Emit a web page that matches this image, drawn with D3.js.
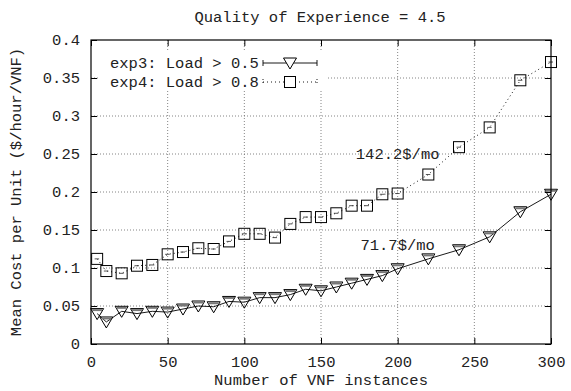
<!DOCTYPE html>
<html><head><meta charset="utf-8">
<script src="https://cdn.jsdelivr.net/npm/d3@7"></script>
<style>body{margin:0;background:#fff}svg{display:block}text{font-family:"Liberation Mono","DejaVu Sans Mono",monospace;fill:#222}</style>
</head><body><svg id="c" width="571" height="391"></svg>
<script>
const xValues = [4,10,20,30,40,50,60,70,80,90,100,110,120,130,140,150,160,170,180,190,200,220,240,260,280,300];
const exp3 = [0.040,0.029,0.043,0.040,0.043,0.042,0.046,0.050,0.049,0.056,0.055,0.061,0.061,0.065,0.072,0.070,0.075,0.080,0.085,0.090,0.099,0.112,0.124,0.141,0.174,0.197];
const exp4 = [0.112,0.096,0.093,0.103,0.104,0.118,0.121,0.126,0.125,0.135,0.145,0.145,0.140,0.158,0.167,0.167,0.172,0.182,0.182,0.197,0.198,0.223,0.259,0.285,0.347,0.371];
const xTicks = [0,50,100,150,200,250,300];
const yTicks = [0,0.05,0.1,0.15,0.2,0.25,0.3,0.35,0.4];
const seriesNames = ["exp3: Load > 0.5","exp4: Load > 0.8"];
const annotations = [{x:200,y:0.25,text:"142.2$/mo"},{x:200,y:0.13,text:"71.7$/mo"}];
const title = "Quality of Experience = 4.5";
const xLabel = "Number of VNF instances";
const yLabel = "Mean Cost per Unit ($/hour/VNF)";

const svg = d3.select("#c");
const L=91,R=551,T=40,B=344;
const x = d3.scaleLinear().domain([0,300]).range([L,R]);
const y = d3.scaleLinear().domain([0,0.4]).range([B,T]);
const fs = "15.5px";

// grid
const g = svg.append("g");
g.selectAll(".gx").data(xTicks.slice(1,-1)).join("line")
 .attr("x1",d=>x(d)).attr("x2",d=>x(d)).attr("y1",T).attr("y2",B)
 .attr("stroke","#666").attr("stroke-width",0.8).attr("stroke-dasharray","1,2");
g.selectAll(".gy").data(yTicks.slice(1,-1)).join("line")
 .attr("x1",L).attr("x2",R).attr("y1",d=>y(d)).attr("y2",d=>y(d))
 .attr("stroke","#666").attr("stroke-width",0.8).attr("stroke-dasharray","1,2");

// axes with mirrored ticks
const ax = (a,tr)=>svg.append("g").attr("transform",tr).call(a).call(s=>{s.select(".domain").remove();s.selectAll("line").attr("stroke","#000");s.selectAll("text").style("font-size",fs).attr("fill","#222");});
ax(d3.axisBottom(x).tickValues(xTicks).tickSize(-6).tickPadding(12).tickFormat(d3.format("d")),`translate(0,${B})`);
ax(d3.axisTop(x).tickValues(xTicks).tickSize(-6).tickFormat(""),`translate(0,${T})`);
ax(d3.axisLeft(y).tickValues(yTicks).tickSize(-6).tickPadding(11).tickFormat(d=>d===0?"0":String(+d.toFixed(2))),`translate(${L},0)`);
ax(d3.axisRight(y).tickValues(yTicks).tickSize(-6).tickFormat(""),`translate(${R},0)`);
svg.selectAll("text").attr("font-family",null);

// legend background
svg.append("rect").attr("x",100).attr("y",50).attr("width",227).attr("height",40).attr("fill","#fff");

// lines
const data3 = xValues.map((v,i)=>[v,exp3[i]]);
const data4 = xValues.map((v,i)=>[v,exp4[i]]);
const line = d3.line().x(d=>x(d[0])).y(d=>y(d[1]));
svg.append("path").attr("d",line(data3)).attr("fill","none").attr("stroke","#000").attr("stroke-width",0.9);
svg.append("path").attr("d",line(data4)).attr("fill","none").attr("stroke","#000").attr("stroke-width",0.9).attr("stroke-dasharray","1,3");

// markers
function tri(sel,cx,cy){
  sel.append("path").attr("d",`M${cx-6.5},${cy-5} L${cx+6.5},${cy-5} L${cx},${cy+6} Z`)
    .attr("fill","none").attr("stroke","#000").attr("stroke-width",1);
  sel.append("line").attr("x1",cx-5).attr("x2",cx+5).attr("y1",cy-3.5).attr("y2",cy-3.5).attr("stroke","#777").attr("stroke-width",2);
}
function sq(sel,cx,cy){
  sel.append("rect").attr("x",cx-5.5).attr("y",cy-5.5).attr("width",11).attr("height",11)
    .attr("fill","none").attr("stroke","#000").attr("stroke-width",1);
  sel.append("line").attr("x1",cx-2.5).attr("x2",cx+2).attr("y1",cy).attr("y2",cy).attr("stroke","#444").attr("stroke-width",0.9);
}
const m3 = svg.append("g"), m4 = svg.append("g");
data3.forEach(d=>tri(m3,x(d[0]),y(d[1])));
data4.forEach(d=>sq(m4,x(d[0]),y(d[1])));

// legend
const lg = svg.append("g");
seriesNames.forEach((n,i)=>{
  const yy = 63+i*19;
  lg.append("text").attr("x",110).attr("y",yy+5).style("font-size",fs).text(n);
  lg.append("line").attr("x1",263).attr("x2",317).attr("y1",yy).attr("y2",yy).attr("stroke","#000").attr("stroke-width",0.9)
    .attr("stroke-dasharray",i?"1,3":null);
  lg.append("line").attr("x1",263).attr("x2",263).attr("y1",yy-3).attr("y2",yy+3).attr("stroke","#000").attr("stroke-width",0.9).attr("stroke-dasharray",i?"1,2":null);
  lg.append("line").attr("x1",317).attr("x2",317).attr("y1",yy-3).attr("y2",yy+3).attr("stroke","#000").attr("stroke-width",0.9).attr("stroke-dasharray",i?"1,2":null);
  if(i===0){ lg.append("path").attr("d",`M${290-6.5},${yy-5} L${290+6.5},${yy-5} L290,${yy+6} Z`).attr("fill","#fff").attr("stroke","#000"); }
  else { lg.append("rect").attr("x",284.5).attr("y",yy-5.5).attr("width",11).attr("height",11).attr("fill","#fff").attr("stroke","#000"); }
});

// annotations
annotations.forEach(a=>svg.append("text").attr("x",x(a.x)).attr("y",y(a.y)+5).attr("text-anchor","middle").style("font-size",fs).text(a.text));

// titles
svg.append("text").attr("x",320).attr("y",22).attr("text-anchor","middle").style("font-size",fs).text(title);
svg.append("text").attr("x",321).attr("y",385).attr("text-anchor","middle").style("font-size",fs).text(xLabel);
svg.append("text").attr("transform","translate(21,192) rotate(-90)").attr("text-anchor","middle").style("font-size",fs).text(yLabel);

// frame
svg.append("rect").attr("x",L).attr("y",T).attr("width",R-L).attr("height",B-T).attr("fill","none").attr("stroke","#000").attr("stroke-width",1.2);
</script></body></html>
